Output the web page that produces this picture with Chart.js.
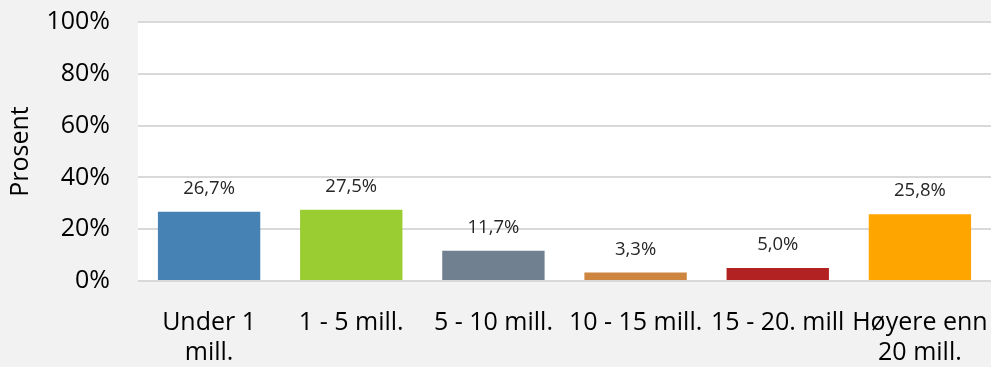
<!DOCTYPE html>
<html>
    <head>
        <meta charset="utf-8">
        <title>Prosent per kategori</title>
        <script src="https://cdn.jsdelivr.net/npm/chart.js@4.4.0/dist/chart.umd.min.js"></script>
        <style>
            html, body { margin: 0; padding: 0; background: #f2f2f2; }
            #wrap { width: 991px; height: 367px; }
        </style>
    </head>
    <body>
        <div id="wrap"><canvas id="chart" width="991" height="367"></canvas></div>
        <script>
            // categories (multi-line labels) and their share in percent
            const categories = [
                ['Under 1', 'mill.'],
                '1 - 5 mill.',
                '5 - 10 mill.',
                '10 - 15 mill.',
                '15 - 20. mill',
                ['Høyere enn', '20 mill.']
            ];
            const shares = [26.7, 27.5, 11.7, 3.3, 5.0, 25.8];
            const barColors = ['#4682b4', '#9acd32', '#708090', '#cd853f', '#b22222', '#ffa500'];
            const yTicks = [0, 20, 40, 60, 80, 100];

            const FONT = "'Open Sans', sans-serif";

            // white plot area on the grey page
            const plotBackground = {
                id: 'plotBackground',
                beforeDraw(chart) {
                    const { ctx, chartArea: a } = chart;
                    ctx.save();
                    ctx.fillStyle = '#ffffff';
                    ctx.fillRect(a.left, a.top, a.right - a.left, a.bottom - a.top);
                    ctx.restore();
                }
            };

            // value labels above each bar, comma as decimal separator
            const valueLabels = {
                id: 'valueLabels',
                afterDatasetsDraw(chart) {
                    const ctx = chart.ctx;
                    const meta = chart.getDatasetMeta(0);
                    ctx.save();
                    ctx.font = '18.5px ' + FONT;
                    ctx.fillStyle = '#262626';
                    ctx.textAlign = 'center';
                    ctx.textBaseline = 'middle';
                    meta.data.forEach((bar, i) => {
                        const txt = shares[i].toFixed(1).replace('.', ',') + '%';
                        ctx.fillText(txt, bar.x, bar.y - 23);
                    });
                    ctx.restore();
                }
            };

            new Chart(document.getElementById('chart'), {
                type: 'bar',
                data: {
                    labels: categories,
                    datasets: [{
                        data: shares,
                        backgroundColor: barColors,
                        borderWidth: 0,
                        barPercentage: 0.72,
                        categoryPercentage: 1.0
                    }]
                },
                options: {
                    responsive: false,
                    animation: false,
                    devicePixelRatio: 1,
                    layout: { padding: { top: 22, right: 0, left: 0, bottom: 0 } },
                    plugins: {
                        legend: { display: false },
                        tooltip: { enabled: false }
                    },
                    scales: {
                        x: {
                            grid: { display: false },
                            border: { display: false },
                            ticks: {
                                color: '#000',
                                font: { family: FONT, size: 25, lineHeight: 1.2 },
                                padding: 19,
                                maxRotation: 0,
                                autoSkip: false
                            },
                            afterFit(scale) {
                                scale.height = 86;
                                scale.paddingLeft = 0;
                                scale.paddingRight = 0;
                            }
                        },
                        y: {
                            min: 0,
                            max: 100,
                            afterBuildTicks(scale) {
                                scale.ticks = yTicks.map(v => ({ value: v }));
                            },
                            grid: {
                                color: '#d9d9d9',
                                lineWidth: 2,
                                drawTicks: false
                            },
                            border: { display: false },
                            ticks: {
                                color: '#000',
                                font: { family: FONT, size: 25 },
                                padding: 28,
                                callback: v => v + '%'
                            },
                            title: {
                                display: true,
                                text: 'Prosent',
                                color: '#000',
                                font: { family: FONT, size: 25, lineHeight: 1.2 },
                                padding: { top: 6, bottom: 0 }
                            },
                            afterFit(scale) {
                                scale.width = 138;
                                scale.paddingTop = 0;
                                scale.paddingBottom = 0;
                            }
                        }
                    }
                },
                plugins: [plotBackground, valueLabels]
            });
        </script>
    </body>
</html>
